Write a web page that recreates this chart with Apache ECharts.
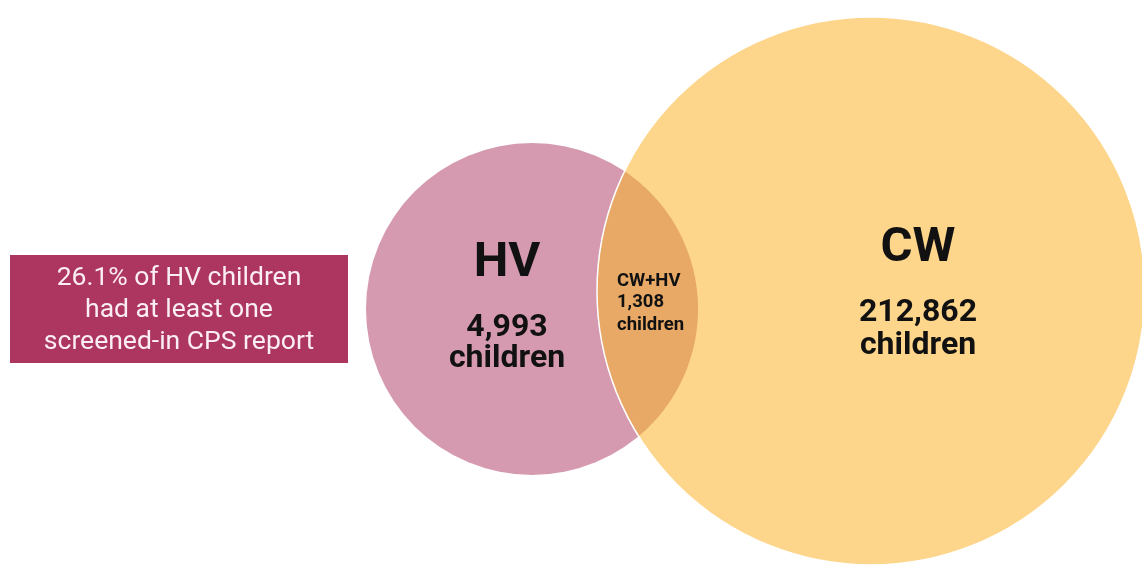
<!DOCTYPE html>
<html>
<head>
<meta charset="utf-8">
<script src="https://cdn.jsdelivr.net/npm/echarts@6/dist/echarts.min.js"></script>
<style>
  html, body { margin: 0; padding: 0; background: #ffffff; }
  #chart { width: 1142px; height: 567px; }
</style>
</head>
<body>
<div id="chart"></div>
<script>
// Set sizes and their overlap
const setNames = ['HV', 'CW'];
const setCounts = [4993, 212862];
const overlapName = 'CW+HV';
const overlapCount = 1308;
const unitLabel = 'children';
const calloutLines = ['26.1% of HV children', 'had at least one', 'screened-in CPS report'];

// Circle geometry in plot units (hidden axes span the whole canvas)
const circleLayout = {
  HV: { cx: 532, cy: 309, r: 166, labelX: 507, titleY: 264, countY: 328, unitY: 359, color: '#d59aaf' },
  CW: { cx: 871, cy: 291, r: 274, labelX: 918, titleY: 249, countY: 313, unitY: 346, color: '#fdd58b' }
};
const overlapLayout = { x: 617, y1: 281, y2: 302, y3: 325, color: '#e8a866' };

const fmt = v => v.toLocaleString('en-US');
const FONT = 'Roboto, "Noto Sans", sans-serif';

function circlePx(api, name) {
  const c = circleLayout[name];
  const p = api.coord([c.cx, c.cy]);
  const r = api.size([c.r, c.r])[0];
  return { x: p[0], y: p[1], r: r };
}

// Outline of the region shared by two circles, as a convex polygon
function lensPoints(a, b) {
  const pts = [];
  const N = 360;
  for (let i = 0; i < N; i++) {
    const t = (i / N) * Math.PI * 2;
    const pa = [a.x + a.r * Math.cos(t), a.y + a.r * Math.sin(t)];
    if (Math.hypot(pa[0] - b.x, pa[1] - b.y) <= b.r) pts.push(pa);
    const pb = [b.x + b.r * Math.cos(t), b.y + b.r * Math.sin(t)];
    if (Math.hypot(pb[0] - a.x, pb[1] - a.y) <= a.r) pts.push(pb);
  }
  let mx = 0, my = 0;
  pts.forEach(p => { mx += p[0]; my += p[1]; });
  mx /= pts.length; my /= pts.length;
  pts.sort((p, q) => Math.atan2(p[1] - my, p[0] - mx) - Math.atan2(q[1] - my, q[0] - mx));
  return pts;
}

const chart = echarts.init(document.getElementById('chart'), null, { renderer: 'canvas' });

const option = {
  backgroundColor: '#ffffff',
  animation: false,
  grid: { left: 0, right: 0, top: 0, bottom: 0 },
  xAxis: { type: 'value', min: 0, max: 1142, show: false },
  yAxis: { type: 'value', min: 0, max: 567, inverse: true, show: false },
  series: [
    {
      // Set circles
      type: 'custom',
      name: 'sets',
      z: 1,
      data: setNames.map((n, i) => [i, setCounts[i]]),
      renderItem: function (params, api) {
        const name = setNames[params.dataIndex];
        const c = circlePx(api, name);
        return {
          type: 'circle',
          shape: { cx: c.x, cy: c.y, r: c.r },
          style: { fill: circleLayout[name].color }
        };
      }
    },
    {
      // Overlap region
      type: 'custom',
      name: 'overlap',
      z: 2,
      data: [[0, overlapCount]],
      renderItem: function (params, api) {
        const a = circlePx(api, 'HV');
        const b = circlePx(api, 'CW');
        return {
          type: 'polygon',
          shape: { points: lensPoints(a, b) },
          style: { fill: overlapLayout.color }
        };
      }
    },
    {
      // White rim of the CW circle
      type: 'custom',
      name: 'rim',
      z: 3,
      data: [[0]],
      renderItem: function (params, api) {
        const c = circlePx(api, 'CW');
        return {
          type: 'circle',
          shape: { cx: c.x, cy: c.y, r: c.r },
          style: { fill: 'none', stroke: '#ffffff', lineWidth: 1.5 }
        };
      }
    },
    {
      // Set labels
      type: 'custom',
      name: 'labels',
      z: 4,
      data: setNames.map((n, i) => [i, setCounts[i]]),
      renderItem: function (params, api) {
        const name = setNames[params.dataIndex];
        const L = circleLayout[name];
        const t = api.coord([L.labelX, L.titleY]);
        const c = api.coord([L.labelX, L.countY]);
        const u = api.coord([L.labelX, L.unitY]);
        const base = { fill: '#111111', fontFamily: FONT, fontWeight: 'bold', align: 'center', verticalAlign: 'middle' };
        return {
          type: 'group',
          children: [
            { type: 'text', style: Object.assign({}, base, { x: t[0], y: t[1], text: name, fontSize: 49 }) },
            { type: 'text', style: Object.assign({}, base, { x: c[0], y: c[1], text: fmt(setCounts[params.dataIndex]), fontSize: 32 }) },
            { type: 'text', style: Object.assign({}, base, { x: u[0], y: u[1], text: unitLabel, fontSize: 32 }) }
          ]
        };
      }
    },
    {
      // Overlap label
      type: 'custom',
      name: 'overlapLabel',
      z: 4,
      data: [[0, overlapCount]],
      renderItem: function (params, api) {
        const L = overlapLayout;
        const base = { fill: '#111111', fontFamily: FONT, fontWeight: 'bold', fontSize: 18.5, align: 'left', verticalAlign: 'middle' };
        const lines = [overlapName, fmt(overlapCount), unitLabel];
        const ys = [L.y1, L.y2, L.y3];
        return {
          type: 'group',
          children: lines.map((s, i) => {
            const p = api.coord([L.x, ys[i]]);
            return { type: 'text', style: Object.assign({}, base, { x: p[0], y: p[1], text: s }) };
          })
        };
      }
    }
  ],
  graphic: [
    {
      type: 'group',
      left: 10,
      top: 255,
      children: [
        { type: 'rect', shape: { x: 0, y: 0, width: 338, height: 108 }, style: { fill: '#ad3660' } },
        {
          type: 'text',
          x: 169,
          y: 55,
          style: {
            text: calloutLines.join('\n'),
            fill: '#fbeef3',
            fontFamily: FONT,
            fontSize: 26.5,
            lineHeight: 32,
            align: 'center',
            verticalAlign: 'middle'
          }
        }
      ]
    }
  ]
};

chart.setOption(option);
</script>
</body>
</html>
